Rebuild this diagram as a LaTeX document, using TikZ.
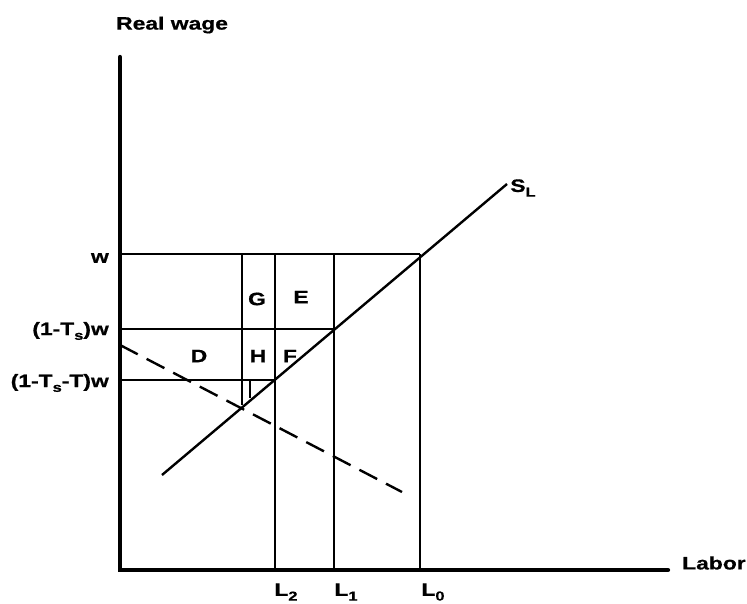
\documentclass[tikz,border=0pt]{standalone}
\usepackage{fontspec}
\setmainfont{Liberation Sans}
\newfontfamily\heavy{Liberation Sans Bold}[FakeBold=0.6]
\newcommand{\wtxt}[1]{\scalebox{1.27}[1]{#1}}
\newcommand{\sub}[1]{\raisebox{-0.5ex}{\fontsize{13}{13}\selectfont #1}}
\begin{document}
\begin{tikzpicture}[x=1pt,y=-1pt,
  axis/.style={line width=4.3pt},
  ln/.style={line width=2.4pt},
  lbl/.style={font=\fontsize{18}{20}\selectfont\heavy, inner sep=0pt},
  dsh/.style={line width=2.4pt, dash pattern=on 20pt off 10pt}]
\useasboundingbox (0,0) rectangle (747,603);
% key coordinates
\coordinate (O) at (120,570);
\coordinate (Ytop) at (120,57);
\coordinate (Xend) at (668,570);
\coordinate (w0) at (120,254);
\coordinate (w1) at (120,329);
\coordinate (w2) at (120,380);
\coordinate (A0) at (420,254);
\coordinate (A1) at (334,329);
\coordinate (A2) at (275,380);
\coordinate (B) at (242,405);
\coordinate (Bt) at (242,254);
\coordinate (C2t) at (275,254);
\coordinate (C1t) at (334,254);
\coordinate (L2b) at (275,570);
\coordinate (L1b) at (334,570);
\coordinate (L0b) at (420,570);
\coordinate (tk1) at (250,380);
\coordinate (tk2) at (250,398);
\coordinate (S1) at (162,475);
\coordinate (S2) at (507,184);
\coordinate (D1) at (120,345);
\coordinate (D2) at (402,492);
% axes
\draw[axis, line cap=round] (Ytop) -- (O) -- (Xend);
% horizontal lines
\draw[ln] (w0) -- (A0);
\draw[ln] (w1) -- (A1);
\draw[ln] (w2) -- (A2);
% vertical lines
\draw[ln] (Bt) -- (B);
\draw[ln] (C2t) -- (L2b);
\draw[ln] (C1t) -- (L1b);
\draw[ln] (A0) -- (L0b);
\draw[ln] (tk1) -- (tk2);
% supply curve
\draw[ln] (S1) -- (S2);
% dashed line
\draw[dsh] (D1) -- (D2);
% labels
\node[lbl, anchor=west] (rw) at (116,25) {\wtxt{Real wage}};
\node[lbl, anchor=west] (lab) at (682,563) {\wtxt{Labor}};
\node[lbl, anchor=east] (lw) at (109,258) {\wtxt{w}};
\node[lbl, anchor=east] (lw1) at (109,331) {\wtxt{(1-T\sub{s})w}};
\node[lbl, anchor=east] (lw2) at (109,383) {\wtxt{(1-T\sub{s}-T)w}};
\node[lbl] (D) at (199,356) {\wtxt{D}};
\node[lbl] (G) at (257,299) {\wtxt{G}};
\node[lbl] (E) at (301,297) {\wtxt{E}};
\node[lbl] (H) at (258,356) {\wtxt{H}};
\node[lbl] (F) at (290,356) {\wtxt{F}};
\node[lbl] (L2) at (286,592) {\wtxt{L\sub{2}}};
\node[lbl] (L1) at (346,592) {\wtxt{L\sub{1}}};
\node[lbl] (L0) at (433,592) {\wtxt{L\sub{0}}};
\node[lbl] (SL) at (523,188) {\wtxt{S\sub{L}}};
\end{tikzpicture}
\end{document}
